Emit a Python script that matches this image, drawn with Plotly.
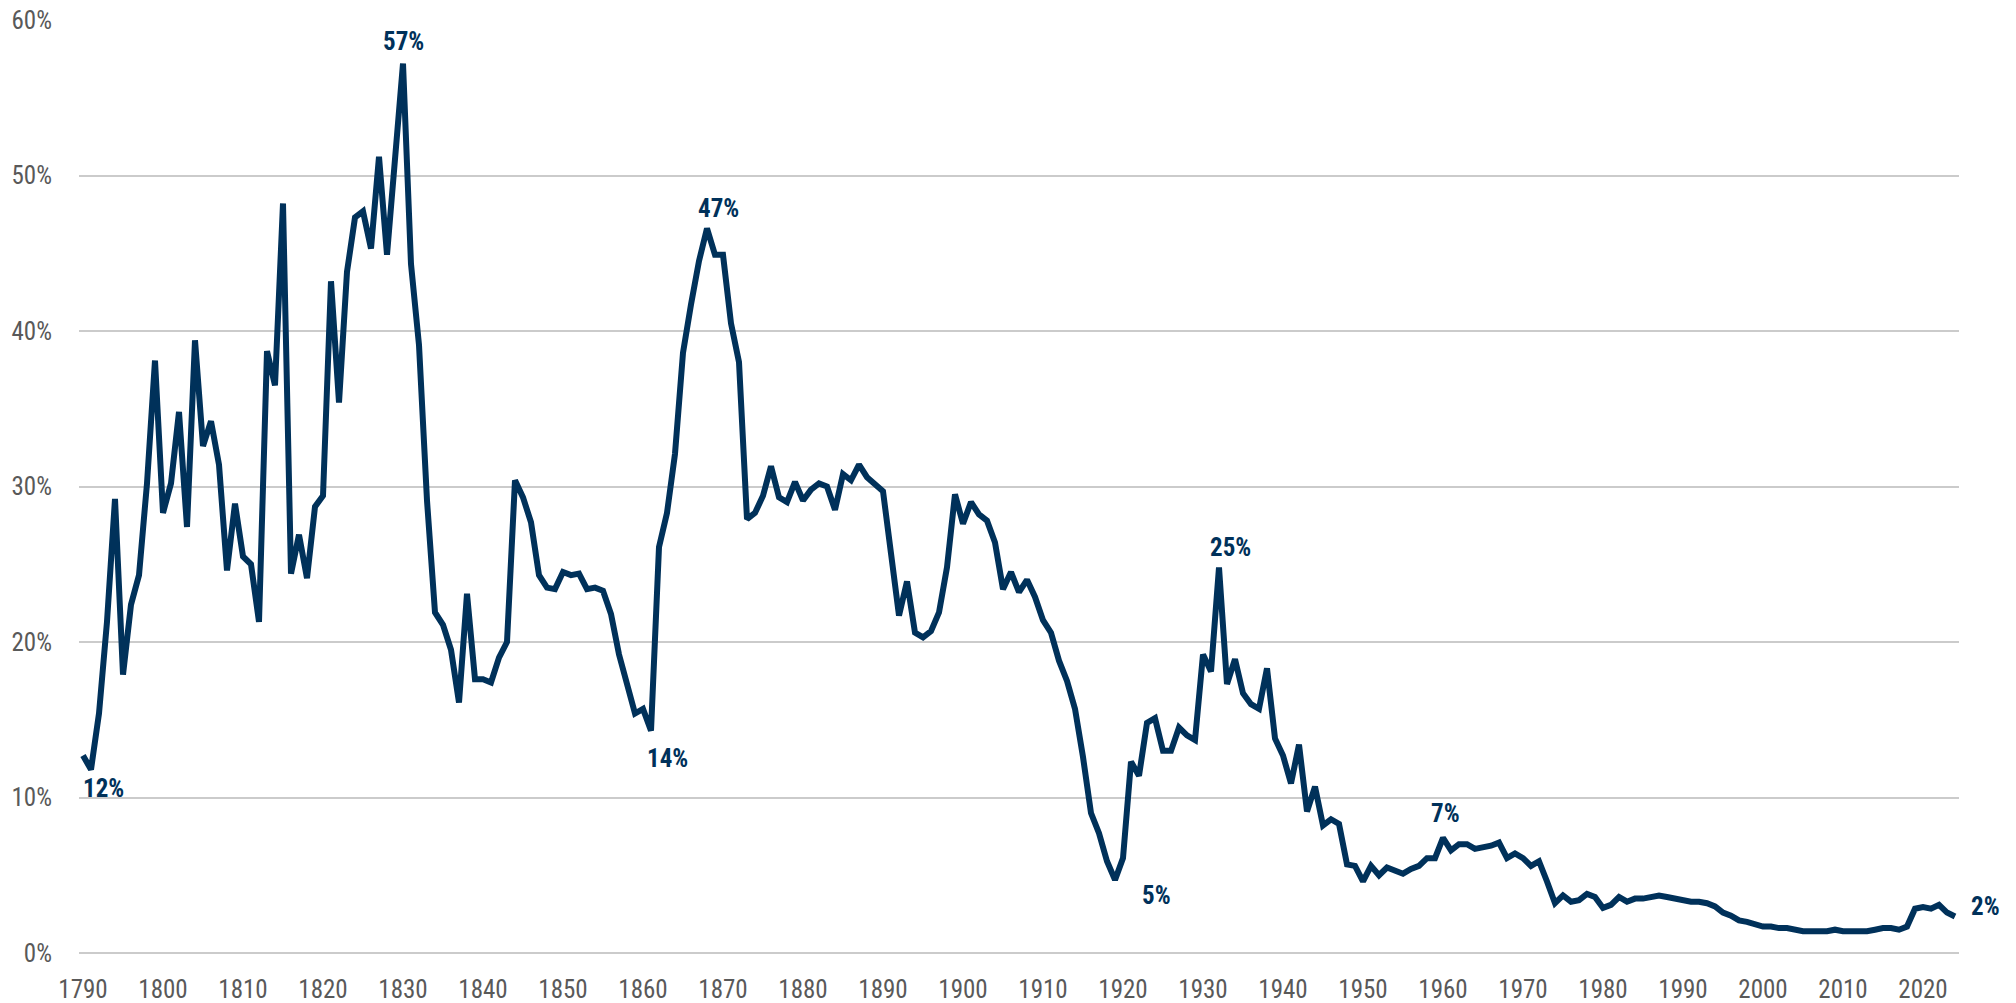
import plotly.graph_objects as go

years = list(range(1790, 2025))

tariff_rate = [
    12.7, 11.8, 15.4, 21.3, 29.2, 17.9, 22.4, 24.3, 30.2, 38.1,   # 1790-1799
    28.3, 30.2, 34.8, 27.4, 39.4, 32.6, 34.2, 31.4, 24.6, 28.9,   # 1800-1809
    25.5, 25.0, 21.3, 38.7, 36.5, 48.2, 24.4, 26.9, 24.1, 28.7,   # 1810-1819
    29.4, 43.2, 35.4, 43.8, 47.3, 47.7, 45.3, 51.2, 44.9, 50.9,   # 1820-1829
    57.2, 44.3, 39.1, 29.1, 21.9, 21.1, 19.5, 16.1, 23.1, 17.6,   # 1830-1839
    17.6, 17.4, 19.0, 20.0, 30.4, 29.3, 27.7, 24.3, 23.5, 23.4,   # 1840-1849
    24.5, 24.3, 24.4, 23.4, 23.5, 23.3, 21.8, 19.2, 17.4, 15.4,   # 1850-1859
    15.7, 14.3, 26.1, 28.3, 32.1, 38.6, 41.7, 44.5, 46.6, 44.9,   # 1860-1869
    44.9, 40.5, 38.0, 27.9, 28.3, 29.4, 31.3, 29.3, 29.0, 30.3,   # 1870-1879
    29.1, 29.8, 30.2, 30.0, 28.5, 30.8, 30.4, 31.4, 30.6, 30.1,   # 1880-1889
    29.7, 25.7, 21.7, 23.9, 20.6, 20.3, 20.7, 21.9, 24.8, 29.5,   # 1890-1899
    27.6, 29.0, 28.2, 27.8, 26.4, 23.4, 24.5, 23.2, 24.0, 22.9,   # 1900-1909
    21.4, 20.6, 18.8, 17.5, 15.7, 12.6, 9.0, 7.7, 5.9, 4.7,       # 1910-1919
    6.1, 12.3, 11.4, 14.8, 15.1, 13.0, 13.0, 14.5, 14.0, 13.7,    # 1920-1929
    19.2, 18.1, 24.8, 17.3, 18.9, 16.7, 16.0, 15.7, 18.3, 13.8,   # 1930-1939
    12.7, 10.9, 13.4, 9.1, 10.7, 8.2, 8.6, 8.3, 5.7, 5.6,         # 1940-1949
    4.6, 5.6, 5.0, 5.5, 5.3, 5.1, 5.4, 5.6, 6.1, 6.1,             # 1950-1959
    7.4, 6.6, 7.0, 7.0, 6.7, 6.8, 6.9, 7.1, 6.1, 6.4,             # 1960-1969
    6.1, 5.6, 5.9, 4.6, 3.2, 3.7, 3.3, 3.4, 3.8, 3.6,             # 1970-1979
    2.9, 3.1, 3.6, 3.3, 3.5, 3.5, 3.6, 3.7, 3.6, 3.5,             # 1980-1989
    3.4, 3.3, 3.3, 3.2, 3.0, 2.6, 2.4, 2.1, 2.0, 1.8,             # 1990-1999
    1.7, 1.7, 1.6, 1.6, 1.5, 1.4, 1.4, 1.4, 1.4, 1.5,             # 2000-2009
    1.4, 1.4, 1.4, 1.4, 1.5, 1.6, 1.6, 1.5, 1.7, 2.85,            # 2010-2019
    2.95, 2.85, 3.1, 2.6, 2.35,                                   # 2020-2024
]

# Callout labels: text, x (year), y (percent)
label_texts = ["12%", "57%", "14%", "47%", "5%", "25%", "7%", "2%"]
label_x = [1792.6, 1830.0, 1863.0, 1869.4, 1924.2, 1933.4, 1960.3, 2027.8]
label_y = [10.6, 58.6, 12.5, 47.9, 3.7, 26.1, 9.0, 3.0]

x_tick_vals = list(range(1790, 2021, 10))
y_tick_vals = [0, 10, 20, 30, 40, 50, 60]
y_tick_text = ["0%", "10%", "20%", "30%", "40%", "50%", "60%"]

X_RANGE = [1789.5, 2024.5]
Y_RANGE = [0, 60]

NAVY = "#00315A"
GREY = "#595959"
FONT = "Roboto Condensed, DejaVu Sans Condensed, sans-serif"

fig = go.Figure()
fig.add_trace(go.Scatter(
    x=years, y=tariff_rate, mode="lines",
    line=dict(color=NAVY, width=6),
    hoverinfo="x+y", showlegend=False,
))

for t, lx, ly in zip(label_texts, label_x, label_y):
    # labels beyond the axis range are placed in paper coordinates so they stay visible
    if lx > X_RANGE[1]:
        xref, xval = "paper", (lx - X_RANGE[0]) / (X_RANGE[1] - X_RANGE[0])
    else:
        xref, xval = "x", lx
    fig.add_annotation(
        x=xval, xref=xref, y=ly, yref="y", text=f"<b>{t}</b>", showarrow=False,
        xanchor="center", yanchor="middle",
        font=dict(family=FONT, size=25, color=NAVY),
    )

fig.update_layout(
    width=2016, height=1003,
    margin=dict(l=79, r=57, t=20, b=50, pad=0),
    paper_bgcolor="white", plot_bgcolor="white",
    font=dict(family=FONT, size=25, color=GREY),
    xaxis=dict(
        range=X_RANGE, tickmode="array", tickvals=x_tick_vals,
        ticktext=[str(v) for v in x_tick_vals],
        showgrid=False, zeroline=False, showline=False, automargin=False,
        ticks="", ticklabelstandoff=19,
        tickfont=dict(family=FONT, size=25, color=GREY),
    ),
    yaxis=dict(
        range=Y_RANGE, tickmode="array", tickvals=y_tick_vals, ticktext=y_tick_text,
        showgrid=True, gridcolor="#CBCBCB", gridwidth=1.5,
        zeroline=True, zerolinecolor="#CBCBCB", zerolinewidth=1.5,
        showline=False, automargin=False, ticks="", ticklabelstandoff=26,
        tickfont=dict(family=FONT, size=25, color=GREY),
    ),
)

# remove the default 8px page margin so the figure fills the 2016x1003 window exactly
fig.write_html(
    "out.html",
    config={"displayModeBar": False},
    post_script="document.body.style.margin='0';document.body.style.overflow='hidden';",
)
